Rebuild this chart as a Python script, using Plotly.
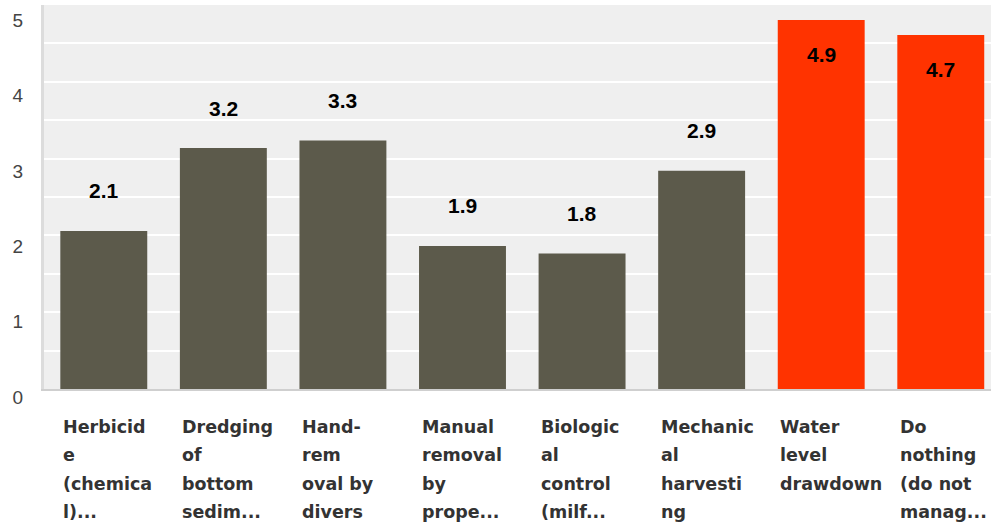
import plotly.graph_objects as go

# Management options (wrapped label lines), mean scores and bar colours
label_lines = [
    ["Herbicid", "e", "(chemica", "l)..."],
    ["Dredging", "of", "bottom", "sedim..."],
    ["Hand-", "rem", "oval by", "divers"],
    ["Manual", "removal", "by", "prope..."],
    ["Biologic", "al", "control", "(milf..."],
    ["Mechanic", "al", "harvesti", "ng"],
    ["Water", "level", "drawdown"],
    ["Do", "nothing", "(do not", "manag..."],
]
categories = [" ".join(lines) for lines in label_lines]
values = [2.1, 3.2, 3.3, 1.9, 1.8, 2.9, 4.9, 4.7]
highlight = [False, False, False, False, False, False, True, True]
y_ticks = [0, 1, 2, 3, 4, 5]

GRAY = "#5c5a4b"
RED = "#ff3300"
bar_colors = [RED if h else GRAY for h in highlight]

fig = go.Figure()

# invisible trace on a secondary axis that carries the half-step grid
fig.add_trace(go.Scatter(x=[categories[0]], y=[0], yaxis="y2",
                         mode="markers", marker=dict(opacity=0),
                         hoverinfo="skip", showlegend=False))

fig.add_trace(go.Bar(
    x=categories,
    y=values,
    marker=dict(color=bar_colors, line=dict(width=0)),
    hoverinfo="x+y",
))

annotations = []
for cat, val, hl in zip(categories, values, highlight):
    annotations.append(dict(
        x=cat, y=val, xref="x", yref="y",
        text=f"<b>{val:.1f}</b>", showarrow=False,
        yanchor="middle", yshift=-34 if hl else 40,
        font=dict(family="Liberation Sans, Arial, sans-serif", size=21, color="#000000"),
    ))
for cat, lines in zip(categories, label_lines):
    for j, line in enumerate(lines):
        annotations.append(dict(
            x=cat, y=0, xref="x", yref="y",
            text=f"<b>{line}</b>", showarrow=False,
            xanchor="left", yanchor="middle",
            xshift=-43, yshift=-38 - 28.3 * j,
            font=dict(family="DejaVu Sans, sans-serif", size=17.5, color="#333333"),
        ))

fig.update_layout(
    width=991, height=525,
    margin=dict(l=44, r=0, t=5, b=136),
    paper_bgcolor="#ffffff",
    plot_bgcolor="#efefef",
    showlegend=False,
    bargap=0.273,
    annotations=annotations,
    xaxis=dict(
        type="category", range=[-0.5, 7.42],
        showticklabels=False, ticks="", showgrid=False, zeroline=False,
        showline=True, linecolor="#cfcfcf", linewidth=2,
    ),
    yaxis=dict(
        range=[0, 5.1], tickvals=y_ticks, ticktext=[str(t) for t in y_ticks],
        showgrid=False, zeroline=False, ticks="",
        showline=True, linecolor="#dcdcdc", linewidth=3,
        tickfont=dict(family="Liberation Sans, Arial, sans-serif", size=19, color="#444444"),
        ticklabelshift=8, ticklabelstandoff=14,
    ),
    yaxis2=dict(
        overlaying="y", range=[0, 10], dtick=1,
        showgrid=True, gridcolor="#ffffff", gridwidth=2,
        showticklabels=False, zeroline=False, showline=False, ticks="",
    ),
)

fig.write_html("out.html")
